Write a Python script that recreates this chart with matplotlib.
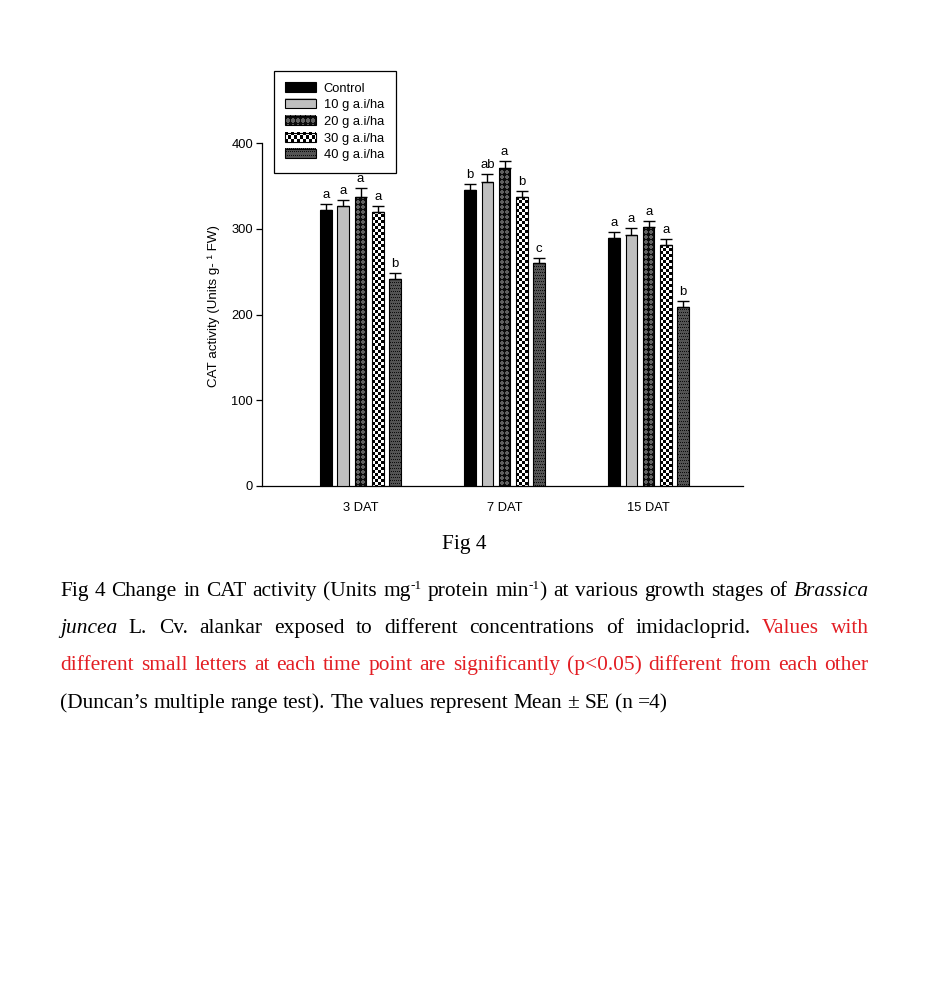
import numpy as np
import matplotlib
matplotlib.use('Agg')
import matplotlib.pyplot as plt
from matplotlib.patches import Patch, Rectangle
from matplotlib.legend_handler import HandlerBase
from matplotlib.image import BboxImage
from matplotlib.transforms import Bbox, TransformedBbox, IdentityTransform

# ---------------- data ----------------
categories = ['3 DAT', '7 DAT', '15 DAT']
series_labels = ['Control', '10 g a.i/ha', '20 g a.i/ha', '30 g a.i/ha', '40 g a.i/ha']

control = [322, 345, 289]
g10 = [326, 354, 293]
g20 = [337, 371, 302]
g30 = [320, 337, 281]
g40 = [241, 260, 209]

se_control = [7, 7, 7.5]
se_g10 = [7, 10, 8]
se_g20 = [10, 7.5, 6.6]
se_g30 = [6.5, 7, 6.7]
se_g40 = [7, 6, 7]

letters_control = ['a', 'b', 'a']
letters_g10 = ['a', 'ab', 'a']
letters_g20 = ['a', 'a', 'a']
letters_g30 = ['a', 'b', 'a']
letters_g40 = ['b', 'c', 'b']

yticks = [0, 100, 200, 300, 400]

series_values = [control, g10, g20, g30, g40]
series_se = [se_control, se_g10, se_g20, se_g30, se_g40]
series_letters = [letters_control, letters_g10, letters_g20, letters_g30, letters_g40]
kinds = ['black', 'lightgray', 'diamond', 'checker', 'dots']

SANS = ['Liberation Sans', 'DejaVu Sans']
SERIF = ['Liberation Serif', 'DejaVu Serif']
plt.rcParams['font.family'] = SANS

W, H = 938, 983
fig = plt.figure(figsize=(W / 100, H / 100), dpi=100)
fig.patch.set_facecolor('white')


def texture(kind, h, w):
    h = max(int(h), 1)
    w = max(int(w), 1)
    i, j = np.mgrid[0:h, 0:w]
    out = np.zeros((h, w, 3))
    if kind == 'black':
        out[:] = 0.0
    elif kind == 'lightgray':
        out[:] = 0.75
    elif kind == 'checker':
        c = 3
        m = ((i // c) + (j // c)) % 2
        out[:] = m[..., None] * 1.0
    elif kind == 'diamond':
        s = 5
        m = ((np.floor((i + j) / s) + np.floor((i - j + 1000) / s)) % 2)
        out[:] = np.where(m[..., None] == 0, 0.05, 0.38)
    elif kind == 'dots':
        out[:] = 0.33
        m = ((i % 3) == 0) & (((j + (i // 3)) % 2) == 0)
        out[m] = 0.05
    return out


# ---------------- axes ----------------
ax = fig.add_axes([262 / W, 1 - 486 / H, 481 / W, 343 / H])
xlim = (0.316, 3.655)
ylim = (0, 400)
ax.set_xlim(*xlim)
ax.set_ylim(*ylim)

group_x = np.arange(1, len(categories) + 1)
offset = 0.12
bw = 0.08

for k, (vals, se, lets, kind) in enumerate(zip(series_values, series_se, series_letters, kinds)):
    x = group_x + (k - 2) * offset
    if kind == 'black':
        fc = 'black'
    elif kind == 'lightgray':
        fc = '#bfbfbf'
    else:
        fc = 'none'
    bars = ax.bar(x, vals, width=bw, facecolor=fc, edgecolor='black', linewidth=0.8, zorder=3)
    if fc == 'none':
        for rect in bars:
            x0, y0 = rect.get_x(), rect.get_y()
            w, h = rect.get_width(), rect.get_height()
            p0 = ax.transData.transform((x0, y0))
            p1 = ax.transData.transform((x0 + w, y0 + h))
            pw = int(round(p1[0] - p0[0]))
            ph = int(round(p1[1] - p0[1]))
            im = ax.imshow(texture(kind, ph, pw), extent=(x0, x0 + w, y0, y0 + h),
                           origin='upper', interpolation='nearest', aspect='auto', zorder=2)
            im.set_clip_path(rect)
    ax.errorbar(x, vals, yerr=[np.zeros(len(vals)), se], fmt='none', ecolor='black',
                elinewidth=1.0, capsize=4, capthick=1.0, zorder=4)
    for xi, v, e, l in zip(x, vals, se, lets):
        ax.annotate(l, (xi, v + e), xytext=(0, 4.5), textcoords='offset points',
                    ha='center', va='baseline', fontsize=9.5, family=SANS)

ax.set_xlim(*xlim)
ax.set_ylim(*ylim)
ax.set_xticks(group_x)
ax.set_xticklabels(categories, fontsize=9.3)
ax.set_yticks(yticks)
ax.set_yticklabels([str(t) for t in yticks], fontsize=9.3)
ax.tick_params(axis='x', length=0, pad=11.5)
ax.tick_params(axis='y', length=4.3, width=0.9, direction='out', pad=2)
for s in ['top', 'right']:
    ax.spines[s].set_visible(False)
for s in ['left', 'bottom']:
    ax.spines[s].set_linewidth(0.9)
ax.set_ylabel('CAT activity (Units g- \u00b9 FW)', fontsize=9.6)
ax.yaxis.set_label_coords(-0.087, 0.525)


# ---------------- legend ----------------
class TexHandler(HandlerBase):
    def __init__(self, kind):
        super().__init__()
        self.kind = kind

    def create_artists(self, legend, orig_handle, xdescent, ydescent, width, height, fontsize, trans):
        bb = TransformedBbox(Bbox.from_bounds(-xdescent, -ydescent, width, height), trans)
        img = BboxImage(bb, interpolation='nearest')
        pw = int(round(width * fig.dpi / 72.0))
        ph = int(round(height * fig.dpi / 72.0))
        img.set_data(texture(self.kind, ph, pw))
        rect = Rectangle((-xdescent, -ydescent), width, height, facecolor='none',
                         edgecolor='black', lw=0.8, transform=trans)
        return [img, rect]


proxies = [Patch(label=l) for l in series_labels]
hmap = {p: TexHandler(k) for p, k in zip(proxies, kinds)}
leg = fig.legend(handles=proxies, labels=series_labels, handler_map=hmap,
                 loc='upper left', bbox_to_anchor=(274 / W, 1 - 71 / H),
                 bbox_transform=fig.transFigure, fontsize=9.3, frameon=True,
                 fancybox=False, framealpha=1, edgecolor='black', borderaxespad=0,
                 handlelength=2.4, handleheight=0.7, handletextpad=0.57,
                 labelspacing=0.36, borderpad=0.89)
leg.get_frame().set_linewidth(0.9)

# ---------------- caption ----------------
FS = 15.4
RED = '#e31e24'
renderer = fig.canvas.get_renderer()
ident = IdentityTransform()

fig.text(464.7 / W, 1 - 549 / H, 'Fig 4', ha='center', va='baseline', fontsize=FS,
         family=SERIF, color='black')

caption_lines = [
    ([('Fig 4 Change in CAT activity (Units mg^-1^ protein min^-1^) at various growth stages of ~Brassica', 'black')], True, 596),
    ([('~juncea L. Cv. alankar exposed to different concentrations of imidacloprid.', 'black'),
      ('Values with', RED)], True, 633),
    ([('different small letters at each time point are significantly (p<0.05) different from each other', RED)], True, 670),
    ([('(Duncan\u2019s multiple range test). The values represent Mean \u00b1 SE (n =4)', 'black')], False, 708),
]

X_LEFT, X_RIGHT = 60, 868.5
SPACE = 0.25 * FS * 100 / 72


def make_word(word, color):
    italic = word.startswith('~')
    if italic:
        word = word[1:]
    parts = word.split('^')
    runs = []
    for idx, p in enumerate(parts):
        if not p:
            continue
        sup = idx % 2 == 1
        t = fig.text(0, 0, p, transform=ident, fontsize=FS * 0.62 if sup else FS,
                     family=SERIF, style='italic' if italic else 'normal',
                     color=color, ha='left', va='baseline')
        wdt = t.get_window_extent(renderer).width
        runs.append((t, wdt, sup))
    return runs


for segs, justify, ybase in caption_lines:
    words = []
    for text, color in segs:
        for wd in text.split(' '):
            words.append(make_word(wd, color))
    widths = [sum(r[1] for r in w) for w in words]
    if justify and len(words) > 1:
        gap = (X_RIGHT - X_LEFT - sum(widths)) / (len(words) - 1)
    else:
        gap = SPACE
    xcur = X_LEFT
    ydisp = H - ybase
    for w, wdt in zip(words, widths):
        xx = xcur
        for t, rw, sup in w:
            t.set_position((xx, ydisp + (7 if sup else 0)))
            xx += rw
        xcur += wdt + gap

fig.savefig('out.png', dpi=100, facecolor='white')
